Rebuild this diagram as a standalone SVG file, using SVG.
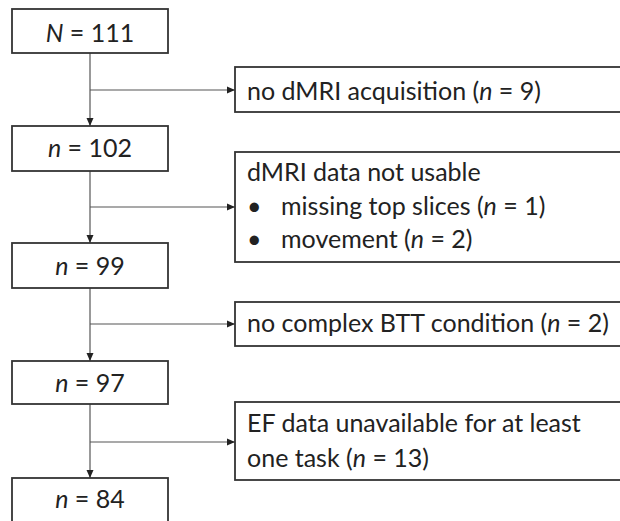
<svg xmlns="http://www.w3.org/2000/svg" width="620" height="521" viewBox="0 0 620 521">
<defs>
<marker id="ah" markerWidth="8" markerHeight="8" refX="8" refY="4" orient="auto" markerUnits="userSpaceOnUse">
<path d="M0,0.5 L8,4 L0,7.5 Z" fill="#222"/>
</marker>
<style>
.box{fill:#fff;stroke:#333;stroke-width:1.8}
.ln{fill:none;stroke:#555;stroke-width:1.2}
text{font-family:Lato,"Liberation Sans",sans-serif;font-size:25px;fill:#222}
.c{text-anchor:middle}
.i{font-style:italic}
</style>
</defs>
<rect width="620" height="521" fill="#fff"/>
<g id="connectors">
<line class="ln" x1="90" y1="53" x2="90" y2="126" marker-end="url(#ah)"/>
<line class="ln" x1="90" y1="90" x2="235" y2="90" marker-end="url(#ah)"/>
<line class="ln" x1="90" y1="171" x2="90" y2="243" marker-end="url(#ah)"/>
<line class="ln" x1="90" y1="207" x2="235" y2="207" marker-end="url(#ah)"/>
<line class="ln" x1="90" y1="288" x2="90" y2="361" marker-end="url(#ah)"/>
<line class="ln" x1="90" y1="324" x2="235" y2="324" marker-end="url(#ah)"/>
<line class="ln" x1="90" y1="404" x2="90" y2="478" marker-end="url(#ah)"/>
<line class="ln" x1="90" y1="442" x2="235" y2="442" marker-end="url(#ah)"/>
</g>
<g id="n111">
<rect class="box" x="12" y="9" width="156" height="44"/>
<text class="c" x="90" y="42"><tspan class="i">N</tspan> = 111</text>
</g>
<g id="n102">
<rect class="box" x="12" y="126" width="156" height="45"/>
<text class="c" x="90" y="157"><tspan class="i">n</tspan> = 102</text>
</g>
<g id="n99">
<rect class="box" x="12" y="243" width="156" height="45"/>
<text class="c" x="90" y="275"><tspan class="i">n</tspan> = 99</text>
</g>
<g id="n97">
<rect class="box" x="12" y="361" width="156" height="43"/>
<text class="c" x="90" y="392"><tspan class="i">n</tspan> = 97</text>
</g>
<g id="n84">
<rect class="box" x="12" y="478" width="156" height="50"/>
<text class="c" x="90" y="508"><tspan class="i">n</tspan> = 84</text>
</g>
<g id="excl1">
<rect class="box" x="235" y="67" width="400" height="45"/>
<text x="247" y="100">no dMRI acquisition (<tspan class="i">n</tspan> = 9)</text>
</g>
<g id="excl2">
<rect class="box" x="235" y="152" width="400" height="110"/>
<text x="247" y="181">dMRI data not usable</text>
<text x="247" y="215">•</text>
<text x="281" y="215">missing top slices (<tspan class="i">n</tspan> = 1)</text>
<text x="247" y="248">•</text>
<text x="281" y="248">movement (<tspan class="i">n</tspan> = 2)</text>
</g>
<g id="excl3">
<rect class="box" x="235" y="302" width="400" height="44"/>
<text x="247" y="332">no complex BTT condition (<tspan class="i">n</tspan> = 2)</text>
</g>
<g id="excl4">
<rect class="box" x="235" y="402" width="400" height="78"/>
<text x="247" y="432">EF data unavailable for at least</text>
<text x="247" y="467">one task (<tspan class="i">n</tspan> = 13)</text>
</g>
</svg>
